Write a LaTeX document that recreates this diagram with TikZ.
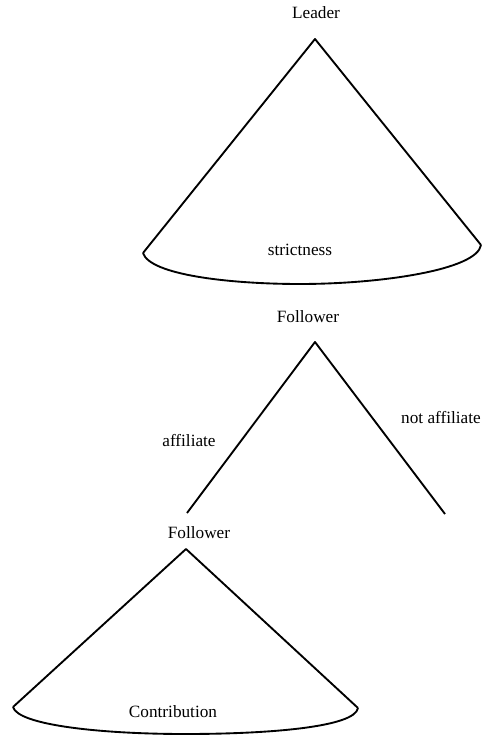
\documentclass[tikz,border=0pt]{standalone}
\usepackage{fontspec}
\setmainfont{Liberation Serif}
\usetikzlibrary{positioning}
\tikzset{
    % Branch line style
    branch/.style={
        line width=1.6pt, line join=round
    },
    % Label style
    lbl/.style={
        inner sep=0pt, font=\fontsize{14.7}{17}\selectfont
    }
}
\begin{document}
\begin{tikzpicture}[x=0.03cm, y=-0.03cm]
\useasboundingbox (0,0) rectangle (482,738);

% Leader and strictness cone
\node[lbl] (leader) at (316,13) {Leader};
\coordinate (lapex) at (315,39);
\coordinate (lleft) at (143,253);
\coordinate (lright) at (481,245);
\node[lbl] (strict) at (300,250) {strictness};
\draw[branch] (lleft) -- (lapex) -- (lright);
\draw[branch] (lleft) .. controls (150,275) and (230,284) .. (300,284)
    .. controls (380,284) and (477,270) .. (lright);

% Follower affiliation choice
\node[lbl] (follow) at (308,317) {Follower};
\coordinate (fapex) at (315,342);
\coordinate (fleft) at (187,513);
\coordinate (fright) at (445,514);
\draw[branch] (fleft) -- (fapex) -- (fright);
\node[lbl] (affil) at (189,441) {affiliate};
\node[lbl, anchor=east] (notaffil) at (481,418) {not affiliate};

% Follower contribution cone
\node[lbl] (follower) at (199,533) {Follower};
\coordinate (capex) at (186,549);
\coordinate (cleft) at (13,707);
\coordinate (cright) at (358,708);
\node[lbl] (contrib) at (173,712) {Contribution};
\draw[branch] (cleft) -- (capex) -- (cright);
\draw[branch] (cleft) .. controls (18,725) and (100,734) .. (185,734)
    .. controls (270,734) and (355,727) .. (cright);

\end{tikzpicture}
\end{document}
